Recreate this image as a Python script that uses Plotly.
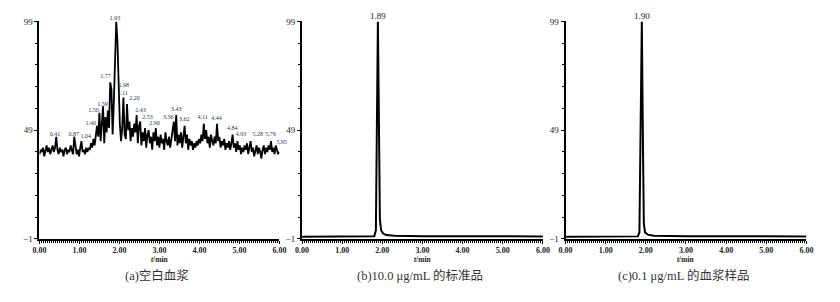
import numpy as np
import plotly.graph_objects as go

# ---------------- data ----------------
# (a) blank plasma, sampled every 0.03 min from 0.00 to 6.00
blank_values = [
    38, 40, 39, 41, 37, 40, 42, 39, 41, 38,
    40, 42, 39, 41, 46, 40, 38, 41, 39, 40,
    37, 40, 41, 38, 40, 39, 42, 40, 38, 46,
    41, 38, 40, 37, 41, 44, 39, 40, 38, 41,
    39, 41, 40, 43, 41, 45, 42, 48, 51, 46,
    57, 44, 52, 60, 43, 55, 48, 58, 50, 71,
    68, 47, 62, 85, 99, 90, 66, 52, 44, 50,
    64, 47, 45, 61, 49, 53, 44, 50, 46, 52,
    48, 56, 43, 51, 53, 42, 48, 44, 50, 41,
    47, 49, 43, 46, 40, 48, 44, 50, 42, 46,
    41, 47, 43, 45, 40, 48, 44, 42, 46, 41,
    45, 49, 53, 44, 56, 42, 47, 43, 48, 41,
    46, 51, 43, 47, 40, 45, 42, 44, 40, 43,
    41, 44, 42, 45, 43, 47, 44, 52, 45, 49,
    43, 46, 41, 47, 44, 42, 46, 43, 52, 44,
    46, 41, 44, 42, 45, 40, 43, 41, 44, 40,
    43, 47, 41, 43, 39, 44, 40, 42, 38, 41,
    39, 42, 40, 43, 38, 41, 44, 39, 41, 37,
    40, 42, 38, 41, 39, 36, 40, 42, 38, 41,
    39, 42, 40, 44, 39, 41, 38, 42, 40, 38,
    39,
]
blank_times = np.round(np.linspace(0.0, 6.0, len(blank_values)), 2)

blank_label_text = ["0.41", "0.87", "1.04", "1.40", "1.50", "1.59", "1.77", "1.93",
                    "1.98", "2.11", "2.20", "2.43", "2.53", "2.90", "3.36", "3.43",
                    "3.62", "4.11", "4.44", "4.84", "4.93", "5.28", "5.79", "5.95"]
blank_label_x = [0.39, 0.86, 1.16, 1.28, 1.35, 1.58, 1.65, 1.89,
                 2.11, 2.08, 2.38, 2.53, 2.70, 2.88, 3.22, 3.42,
                 3.62, 4.08, 4.43, 4.82, 5.04, 5.46, 5.78, 5.93]
blank_label_y = [45.5, 45.5, 44.5, 50.5, 56.5, 59.5, 72.5, 99.0,
                 68.0, 64.5, 62.0, 56.5, 53.5, 50.5, 53.5, 57.0,
                 52.5, 53.5, 53.0, 48.5, 45.5, 45.5, 45.5, 42.0]
blank_label_pos = ["top center"] * 23 + ["top right"]

# (b) 10.0 ug/mL standard
std_times = [0.00, 1.00, 1.80, 1.84, 1.86, 1.89, 1.92, 1.94, 1.97, 2.02, 2.10, 2.30, 3.00, 6.00]
std_values = [0.0, 0.1, 0.3, 3.0, 40, 99, 45, 8.0, 3.0, 1.5, 0.8, 0.5, 0.3, 0.2]

# (c) 0.1 ug/mL plasma sample
smp_times = [0.00, 1.00, 1.80, 1.84, 1.87, 1.90, 1.93, 1.95, 1.98, 2.05, 2.20, 3.00, 6.00]
smp_values = [0.0, 0.1, 0.2, 2.0, 45, 99, 40, 6.0, 2.0, 1.0, 0.5, 0.3, 0.2]

x_tick_vals = [0, 1, 2, 3, 4, 5, 6]
x_tick_text = ["0.00", "1.00", "2.00", "3.00", "4.00", "5.00", "6.00"]
y_tick_vals = [-1, 49, 99]
y_tick_text = ["\u22121", "49", "99"]

titles = ["(a)空白血浆", "(b)10.0 μg/mL 的标准品", "(c)0.1 μg/mL 的血浆样品"]

# ---------------- layout ----------------
W, H = 840, 302
SERIF = "Liberation Serif, Noto Sans CJK SC, serif"
LABEL_COLOR = "#23306e"

panels = [(33, 277), (300, 545), (568, 813)]
y_top_px, y_bot_px = 17, 242

fig = go.Figure()

series = [(blank_times, blank_values), (std_times, std_values), (smp_times, smp_values)]
for i, (tx, vy) in enumerate(series):
    k = "" if i == 0 else str(i + 1)
    fig.add_trace(go.Scatter(x=list(tx), y=vy, mode="lines",
                             line=dict(color="black", width=1.8 if i == 0 else 2),
                             xaxis="x" + k, yaxis="y" + k, showlegend=False,
                             hoverinfo="skip"))

# peak labels
fig.add_trace(go.Scatter(x=blank_label_x, y=blank_label_y, mode="text",
                         text=blank_label_text, textposition=blank_label_pos,
                         textfont=dict(family=SERIF, size=6, color=LABEL_COLOR),
                         xaxis="x", yaxis="y", showlegend=False, hoverinfo="skip",
                         cliponaxis=False))
fig.add_trace(go.Scatter(x=[1.89], y=[99], mode="text", text=["1.89"],
                         textposition="top center",
                         textfont=dict(family=SERIF, size=9, color="#222"),
                         xaxis="x2", yaxis="y2", showlegend=False, hoverinfo="skip",
                         cliponaxis=False))
fig.add_trace(go.Scatter(x=[1.90], y=[99], mode="text", text=["1.90"],
                         textposition="top center",
                         textfont=dict(family=SERIF, size=9, color="#222"),
                         xaxis="x3", yaxis="y3", showlegend=False, hoverinfo="skip",
                         cliponaxis=False))

ydom = [(H - y_bot_px) / H, (H - y_top_px) / H]
layout = dict(width=W, height=H, margin=dict(l=0, r=0, t=0, b=0),
              paper_bgcolor="white", plot_bgcolor="white", showlegend=False)

for i, (x0, x1) in enumerate(panels):
    k = "" if i == 0 else str(i + 1)
    layout["xaxis" + k] = dict(
        domain=[x0 / W, x1 / W], range=[0, 6], anchor="y" + k,
        showline=True, linewidth=2, linecolor="black", showgrid=False, zeroline=False,
        tickmode="array", tickvals=x_tick_vals,
        ticktext=["<b>" + s + "</b>" for s in x_tick_text],
        ticks="outside", ticklen=3, tickwidth=1, tickcolor="black",
        ticklabelstandoff=-1,
        minor=dict(tickmode="linear", tick0=0, dtick=0.05, ticks="outside",
                   ticklen=2, tickwidth=1, tickcolor="black"),
        tickfont=dict(family=SERIF, size=8, color="#222"),
        fixedrange=True,
    )
    layout["yaxis" + k] = dict(
        domain=ydom, range=[-1, 99], anchor="x" + k,
        showline=True, linewidth=2, linecolor="black", showgrid=False, zeroline=False,
        tickmode="array", tickvals=y_tick_vals, ticktext=y_tick_text,
        ticks="outside", ticklen=3, tickwidth=1, tickcolor="black",
        minor=dict(tickmode="linear", tick0=-1, dtick=10, ticks="outside",
                   ticklen=2, tickwidth=1, tickcolor="black"),
        tickfont=dict(family=SERIF, size=9, color="#222"),
        fixedrange=True,
    )

annotations = []
for i, (x0, x1) in enumerate(panels):
    cx = (x0 + x1) / 2 / W
    annotations.append(dict(xref="paper", yref="paper", x=cx + 0.5 / W, y=(H - 263) / H,
                            text="<b><i>t</i>/min</b>", showarrow=False,
                            font=dict(family=SERIF, size=7.5, color="#222"),
                            xanchor="center", yanchor="middle"))
title_cx = [153, 420, 688]
for i, t in enumerate(titles):
    annotations.append(dict(xref="paper", yref="paper", x=title_cx[i] / W, y=(H - 280) / H,
                            text=t, showarrow=False,
                            font=dict(family=SERIF, size=12.5, color="#333"),
                            xanchor="center", yanchor="middle"))
layout["annotations"] = annotations

fig.update_layout(**layout)
fig.write_html("out.html")
